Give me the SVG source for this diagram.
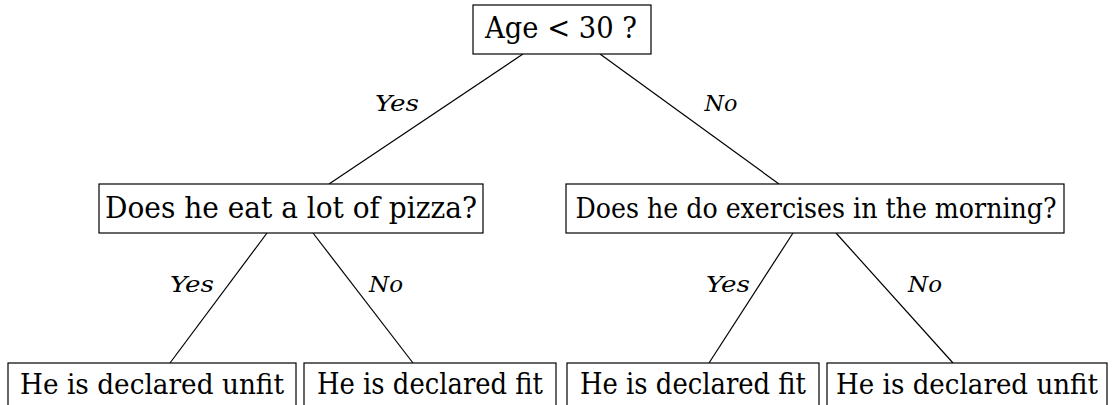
<svg xmlns="http://www.w3.org/2000/svg" width="1114" height="405" viewBox="0 0 1114 405">
<style>
.box{fill:#fff;stroke:#000;stroke-width:1.2}
.t{font-family:'DejaVu Serif',serif;font-size:29px;fill:#000;text-anchor:middle}
.s{font-size:27px}
.lbl{font-family:'DejaVu Serif',serif;font-size:23px;font-style:italic;fill:#000;text-anchor:middle}
.edge{stroke:#000;stroke-width:1.2;fill:none}
</style>
<rect width="1114" height="405" fill="#fff"/>
<g id="connectors">
<line class="edge" x1="523" y1="54" x2="329" y2="184"/>
<line class="edge" x1="600" y1="54" x2="779" y2="184"/>
<line class="edge" x1="267" y1="233" x2="170" y2="363"/>
<line class="edge" x1="313" y1="233" x2="413" y2="363"/>
<line class="edge" x1="793" y1="233" x2="709" y2="363"/>
<line class="edge" x1="836" y1="233" x2="953" y2="363"/>
<text class="lbl" x="397" y="111" textLength="44" lengthAdjust="spacingAndGlyphs">Yes</text>
<text class="lbl" x="721" y="111" textLength="33" lengthAdjust="spacingAndGlyphs">No</text>
<text class="lbl" x="192" y="292" textLength="44" lengthAdjust="spacingAndGlyphs">Yes</text>
<text class="lbl" x="386" y="292" textLength="34" lengthAdjust="spacingAndGlyphs">No</text>
<text class="lbl" x="728" y="292" textLength="44" lengthAdjust="spacingAndGlyphs">Yes</text>
<text class="lbl" x="925" y="292" textLength="34" lengthAdjust="spacingAndGlyphs">No</text>
</g>
<g id="root">
<rect class="box" x="473" y="5" width="178" height="49"/>
<text class="t" x="561" y="38" textLength="152" lengthAdjust="spacingAndGlyphs">Age &lt; 30 ?</text>
</g>
<g id="pizza">
<rect class="box" x="99" y="184" width="384" height="49"/>
<text class="t" x="291" y="218" textLength="372" lengthAdjust="spacingAndGlyphs">Does he eat a lot of pizza?</text>
</g>
<g id="exercise">
<rect class="box" x="566" y="184" width="498" height="49"/>
<text class="t s" x="816" y="218" textLength="481" lengthAdjust="spacingAndGlyphs">Does he do exercises in the morning?</text>
</g>
<g id="leaf1">
<rect class="box" x="8" y="363" width="288" height="49"/>
<text class="t s" x="152" y="394" textLength="264" lengthAdjust="spacingAndGlyphs">He is declared unfit</text>
</g>
<g id="leaf2">
<rect class="box" x="304" y="363" width="252" height="49"/>
<text class="t" x="430" y="394" textLength="226" lengthAdjust="spacingAndGlyphs">He is declared fit</text>
</g>
<g id="leaf3">
<rect class="box" x="567" y="363" width="252" height="49"/>
<text class="t" x="693" y="394" textLength="226" lengthAdjust="spacingAndGlyphs">He is declared fit</text>
</g>
<g id="leaf4">
<rect class="box" x="827" y="363" width="280" height="49"/>
<text class="t s" x="967" y="394" textLength="262" lengthAdjust="spacingAndGlyphs">He is declared unfit</text>
</g>
</svg>
